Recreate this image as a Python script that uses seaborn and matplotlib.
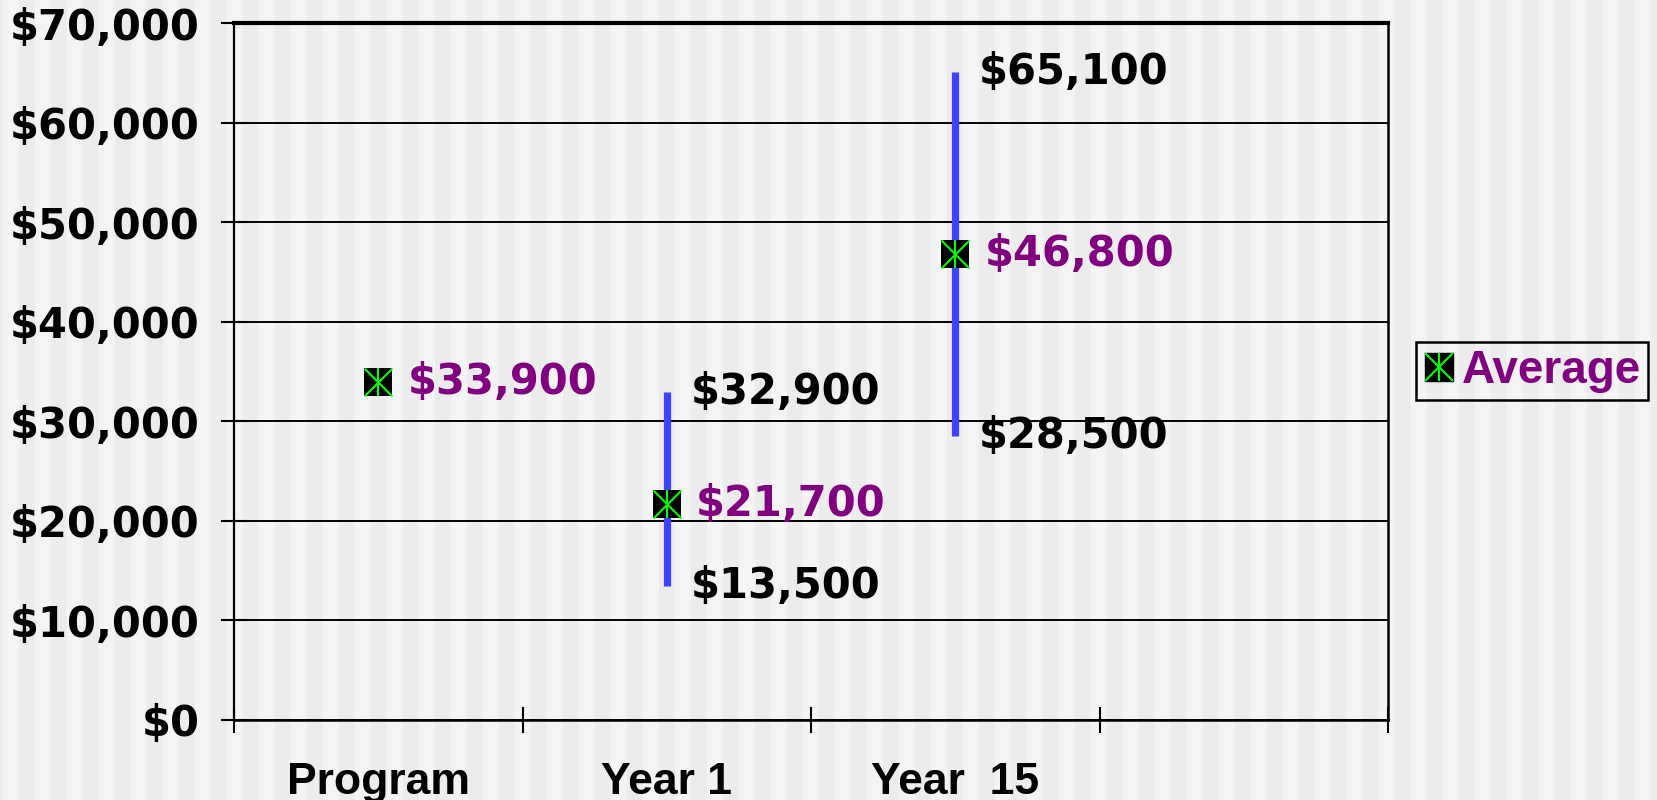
import numpy as np
import pandas as pd
import matplotlib
matplotlib.use("Agg")
import matplotlib.pyplot as plt
from matplotlib.lines import Line2D
import seaborn as sns

# data
categories = ["Program", "Year 1", "Year  15", ""]
avg_values = [33900, 21700, 46800]
range_cats = ["Year 1", "Year  15"]
range_low = [13500, 28500]
range_high = [32900, 65100]
y_ticks = [0, 10000, 20000, 30000, 40000, 50000, 60000, 70000]
y_tick_labels = ["$0", "$10,000", "$20,000", "$30,000", "$40,000",
                 "$50,000", "$60,000", "$70,000"]

sns.set_theme(style="white")
plt.rcParams['font.family'] = ['DejaVu Sans']
plt.rcParams['text.color'] = 'black'
plt.rcParams['xtick.color'] = 'black'
plt.rcParams['ytick.color'] = 'black'

W, H = 1657, 800
fig = plt.figure(figsize=(W / 100, H / 100), dpi=100)

# striped background
bg = fig.add_axes([0, 0, 1, 1], zorder=-10)
cols = np.arange(W)
stripe = (((cols - 19) % 32) < 16).astype(float)
bg.imshow(stripe[None, :], cmap=matplotlib.colors.ListedColormap(["#f4f4f4", "#ececec"]),
          aspect="auto", interpolation="nearest", extent=[0, 1, 0, 1])
bg.axis("off")

ax = fig.add_axes([234 / W, 1 - 720 / H, (1388 - 234) / W, (720 - 23) / H])
ax.set_facecolor("none")

df = pd.DataFrame({"cat": categories[:3], "avg": avg_values})
df["pos"] = [categories.index(c) for c in df["cat"]]
rng = pd.DataFrame({"cat": range_cats, "low": range_low, "high": range_high})
rng["pos"] = [categories.index(c) for c in rng["cat"]]

# range lines
ax.vlines(rng["pos"], rng["low"], rng["high"], color="#4040ff", lw=5.2, zorder=3)

# average markers: black square with green asterisk
ms = 20
sns.scatterplot(data=df, x="pos", y="avg", marker="s", s=ms ** 2, color="black",
                edgecolor="black", linewidth=0, ax=ax, zorder=4, legend=False)
sns.scatterplot(data=df, x="pos", y="avg", marker="x", s=ms ** 2, color="#00ff00",
                linewidth=1.5, ax=ax, zorder=5, legend=False)
sns.scatterplot(data=df, x="pos", y="avg", marker="|", s=ms ** 2, color="#00ff00",
                linewidth=1.5, ax=ax, zorder=5, legend=False)

# labels
for p, v in zip(df["pos"], df["avg"]):
    ax.annotate(f"${v:,}", (p, v), xytext=(21, 0), textcoords="offset points",
                va="center", ha="left", color="#800080", fontsize=30,
                fontweight="bold", zorder=6)
for p, lo, hi in zip(rng["pos"], rng["low"], rng["high"]):
    for v in (lo, hi):
        ax.annotate(f"${v:,}", (p, v), xytext=(17, 0), textcoords="offset points",
                    va="center", ha="left", color="black", fontsize=30,
                    fontweight="bold", zorder=6)

# axes
ax.set_xlim(-0.5, len(categories) - 0.5)
ax.set_ylim(0, 70000)
ax.set_yticks(y_ticks)
ax.set_yticklabels(y_tick_labels, fontsize=30, fontweight="bold", color="black")
ax.tick_params(axis="y", direction="inout", length=19, width=1.5, color="black",
               pad=15, left=True)
ax.set_xticks(np.arange(len(categories) + 1) - 0.5)
ax.set_xticklabels([])
ax.tick_params(axis="x", which="major", direction="inout", length=19, width=1.5,
               color="black", bottom=True)
ax.set_xticks(np.arange(len(categories)), minor=True)
ax.set_xticklabels(categories, minor=True, fontsize=32, fontweight="bold",
                   family=["Liberation Sans"], color="black")
ax.tick_params(axis="x", which="minor", length=0, pad=30)
ax.set_xlabel("")
ax.set_ylabel("")
ax.yaxis.grid(True, color="black", lw=1.4)
ax.set_axisbelow(True)
for side, lw in [("top", 3.0), ("right", 1.8), ("left", 1.6), ("bottom", 1.8)]:
    ax.spines[side].set_visible(True)
    ax.spines[side].set_color("black")
    ax.spines[side].set_linewidth(lw)

# legend
handle = (Line2D([], [], ls="none", marker="s", ms=ms, mfc="black", mec="black"),
          Line2D([], [], ls="none", marker="x", ms=ms, mec="#00ff00", mew=1.5),
          Line2D([], [], ls="none", marker="|", ms=ms, mec="#00ff00", mew=1.5))
leg = fig.legend([handle], ["Average"], loc="center",
                 bbox_to_anchor=(1532 / W, 1 - 371 / H), bbox_transform=fig.transFigure,
                 prop={"family": ["Liberation Sans"], "weight": "bold", "size": 33},
                 frameon=True, fancybox=False, framealpha=1, facecolor="none",
                 edgecolor="black", borderpad=0.15, handlelength=0.7,
                 handletextpad=0.15, borderaxespad=0)
leg.get_frame().set_linewidth(1.8)
for t in leg.get_texts():
    t.set_color("#800080")

fig.savefig("out.png", dpi=100)
